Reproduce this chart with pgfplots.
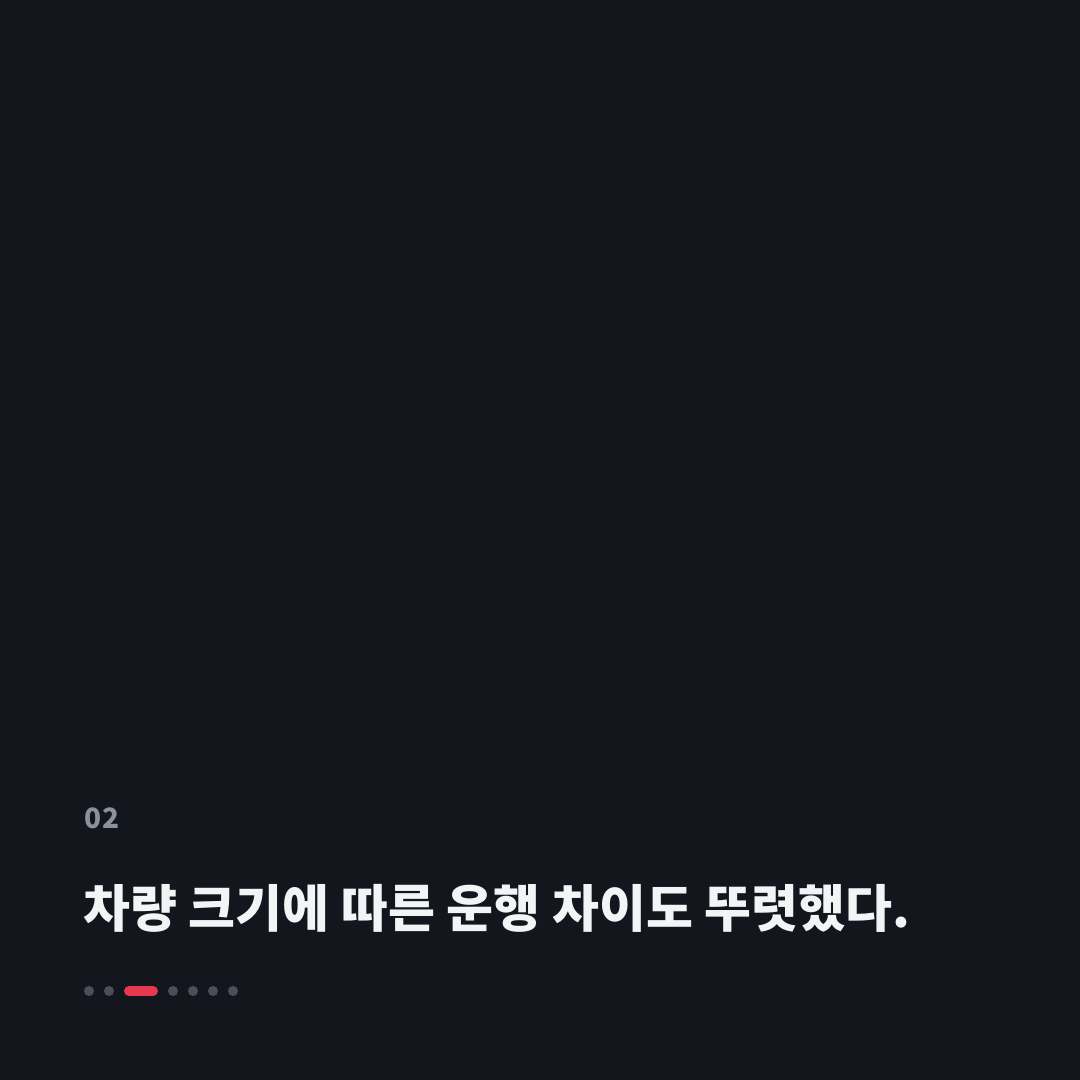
\documentclass[border=0pt]{standalone}
\usepackage{pgfplots}
\pgfplotsset{compat=1.18}
\usepackage{fontspec}
\newfontfamily\kr{Noto Sans CJK KR}
\definecolor{bgc}{HTML}{13161D}
\definecolor{dotgray}{HTML}{4A4F57}
\definecolor{accent}{HTML}{E63950}
\definecolor{numgray}{HTML}{8A929E}
\definecolor{titlec}{HTML}{F3F4F6}
\begin{document}
\begin{tikzpicture}
\begin{axis}[width=1080bp,height=1080bp,scale only axis,
  xmin=0,xmax=1080,ymin=0,ymax=1080,hide axis,clip=false]
\fill[bgc] (axis cs:0,0) rectangle (axis cs:1080,1080);
\addplot[only marks, mark=*, mark size=4.5bp, mark options={draw=dotgray, fill=dotgray, line width=1bp}]
  coordinates {(89,89) (109,89) (173,89) (193,89) (213,89) (233,89)};
\addplot[accent, line width=10bp, line cap=round, no marks]
  coordinates {(129,89) (153,89)};
\node[anchor=base west, inner sep=0pt, text=numgray, font=\kr\bfseries\fontsize{28bp}{32bp}\selectfont]
  at (axis cs:84,251) {0\kern1bp 2};
\node[anchor=base west, inner sep=0pt, text=titlec, font=\kr\bfseries\fontsize{51bp}{60bp}\selectfont]
  at (axis cs:83,152) {차량 크기에 따른 운행 차이도 뚜렷했다.};
\end{axis}
\end{tikzpicture}
\end{document}
